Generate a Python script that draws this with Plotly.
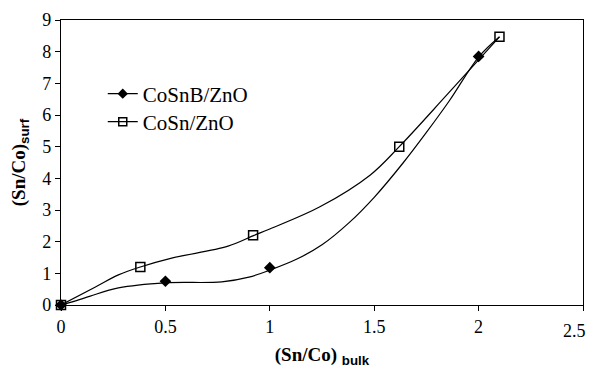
import plotly.graph_objects as go

# Measured data points (markers)
cosnb_x = [0, 0.5, 1.0, 2.0]
cosnb_y = [0, 0.75, 1.18, 7.85]
cosn_x = [0, 0.38, 0.92, 1.62, 2.1]
cosn_y = [0, 1.2, 2.2, 5.0, 8.47]

# Smoothed curves
cosnb_curve_x = [0, 0.07, 0.14, 0.275, 0.5, 0.77, 0.9, 1.0, 1.13, 1.25, 1.38, 1.5, 1.64, 1.75, 1.86, 2.0, 2.1]
cosnb_curve_y = [0, 0.13, 0.28, 0.54, 0.7, 0.73, 0.88, 1.1, 1.45, 1.9, 2.6, 3.4, 4.5, 5.45, 6.45, 7.83, 8.47]
cosn_curve_x = [0, 0.165, 0.275, 0.38, 0.53, 0.8, 0.925, 1.0, 1.24, 1.48, 1.62, 1.85, 2.1]
cosn_curve_y = [0, 0.57, 0.95, 1.2, 1.48, 1.86, 2.2, 2.4, 3.1, 4.1, 5.0, 6.65, 8.47]

x_ticks = [0, 0.5, 1, 1.5, 2, 2.5]
y_ticks = [0, 1, 2, 3, 4, 5, 6, 7, 8, 9]
names = ["CoSnB/ZnO", "CoSn/ZnO"]

SERIF = "Liberation Serif, Times New Roman, serif"

# The page body has an 8px default margin; size the figure so the page never scrolls.
W, H = 587, 360
PLOT_TOP, PLOT_BOTTOM = 12, 297

fig = go.Figure()

for cx, cy in [(cosnb_curve_x, cosnb_curve_y), (cosn_curve_x, cosn_curve_y)]:
    fig.add_trace(go.Scatter(x=cx, y=cy, mode="lines",
                             line=dict(color="black", width=1.2, shape="spline", smoothing=1.0),
                             showlegend=False, hoverinfo="skip"))

fig.add_trace(go.Scatter(x=cosnb_x, y=cosnb_y, mode="markers",
                         marker=dict(symbol="diamond", size=9, color="black"),
                         showlegend=False, cliponaxis=False))
fig.add_trace(go.Scatter(x=cosn_x, y=cosn_y, mode="markers",
                         marker=dict(symbol="square-open", size=9, color="black",
                                     line=dict(width=1.5, color="black")),
                         showlegend=False, cliponaxis=False))

# legend entries
fig.add_trace(go.Scatter(x=[None], y=[None], mode="lines+markers", name=names[0],
                         line=dict(color="black", width=1.2),
                         marker=dict(symbol="diamond", size=8, color="black"),
                         legend="legend"))
fig.add_trace(go.Scatter(x=[None], y=[None], mode="lines+markers", name=names[1],
                         line=dict(color="black", width=1.2),
                         marker=dict(symbol="square-open", size=8, color="black",
                                     line=dict(width=1.5, color="black")),
                         legend="legend2"))

legend_common = dict(font=dict(family=SERIF, size=21, color="black"),
                     bgcolor="rgba(0,0,0,0)", xanchor="left", yanchor="middle",
                     itemwidth=30)

# Last tick label is drawn as an annotation, nudged left so it stays inside the window
x_ticktext = [str(v) for v in x_ticks[:-1]] + [""]
fig.add_annotation(x=x_ticks[-1], y=0, xref="x", yref="y", text=str(x_ticks[-1]),
                   showarrow=False, xanchor="right", yanchor="middle",
                   xshift=5, yshift=-26, font=dict(family=SERIF, size=18, color="black"))

ph = PLOT_BOTTOM - PLOT_TOP
fig.update_layout(
    template="none",
    width=W, height=H,
    margin=dict(l=53, r=12, t=PLOT_TOP, b=H - PLOT_BOTTOM),
    paper_bgcolor="white", plot_bgcolor="white",
    font=dict(family=SERIF, size=18, color="black"),
    legend=dict(x=0.08, y=(PLOT_BOTTOM - 86) / ph, **legend_common),
    legend2=dict(x=0.08, y=(PLOT_BOTTOM - 114) / ph, **legend_common),
    xaxis=dict(
        range=[0, 2.5], tickvals=x_ticks, ticktext=x_ticktext,
        ticks="outside", ticklen=5, tickwidth=1.2, tickcolor="black",
        showline=True, linecolor="black", linewidth=1.3, mirror=True,
        showgrid=False, zeroline=False, automargin=False,
        ticklabeloverflow="allow",
        tickfont=dict(family=SERIF, size=18),
        title=dict(text="<b>(Sn/Co)</b> <b><sub><span style='font-family:Liberation Sans'>bulk</span></sub></b>",
                   font=dict(family=SERIF, size=19), standoff=17),
    ),
    yaxis=dict(
        range=[0, 9], tickvals=y_ticks,
        ticks="outside", ticklen=5, tickwidth=1.2, tickcolor="black",
        showline=True, linecolor="black", linewidth=1.3, mirror=True,
        showgrid=False, zeroline=False, automargin=False,
        ticklabeloverflow="allow",
        tickfont=dict(family=SERIF, size=18),
        title=dict(text="<b>(Sn/Co)</b><b><sub><span style='font-family:Liberation Sans'>surf</span></sub></b>",
                   font=dict(family=SERIF, size=19), standoff=14),
    ),
)

fig.write_html("out.html")
